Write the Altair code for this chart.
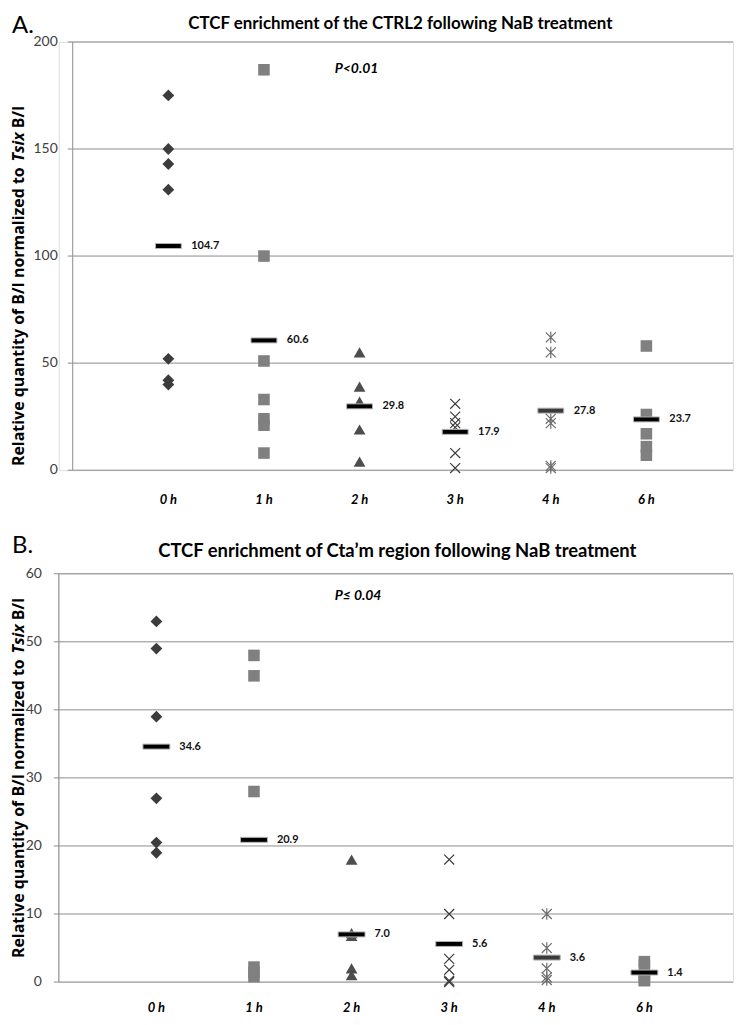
import altair as alt
import pandas as pd

# ---------------- data ----------------
times = ["0 h", "1 h", "2 h", "3 h", "4 h", "6 h"]
positions = [0, 1, 2, 3, 4, 5]

a_0h = [175, 150, 143, 131, 52, 42, 40]
a_1h = [187, 100, 51, 33, 24, 21, 8]
a_2h = [55, 39, 32, 19, 4]
a_3h = [31, 25, 22, 20, 8, 1]
a_4h = [62, 55, 24, 22, 2, 1]
a_6h = [58, 26, 17, 11, 7]
a_means = [104.7, 60.6, 29.8, 17.9, 27.8, 23.7]
a_ticks = [0, 50, 100, 150, 200]

b_0h = [53, 49, 39, 27, 20.5, 19]
b_1h = [48, 45, 28, 2.2, 1.4, 0.8]
b_2h = [18, 7.2, 6.8, 2, 1]
b_3h = [18, 10, 3.4, 1.8, 0.2, 0]
b_4h = [10, 5, 2, 0.7, 0.3]
b_6h = [3, 2.5, 1, 0.3, 0.2]
b_means = [34.6, 20.9, 7.0, 5.6, 3.6, 1.4]
b_ticks = [0, 10, 20, 30, 40, 50, 60]

title_a = "CTCF enrichment of the CTRL2 following NaB treatment"
title_b = "CTCF enrichment of Cta\u2019m region following NaB treatment"
p_a = "P<0.01"
p_b = "P\u2264 0.04"
ytitle_parts = ["Relative quantity of B/I normalized to", "Tsix", "B/I"]

# ---------------- styling ----------------
FONT = "Lato"
YT_FONT = "Open Sans"
GRID = "#8c8c8c"
X_PATH = "M-1,-1L1,1M-1,1L1,-1"
AST_PATH = "M-1,-1L1,1M-1,1L1,-1M0,-1.15L0,1.15"
shape_style = [
    dict(shape="diamond", filled=True, color="#3c3c3c", size=140),
    dict(shape="square", filled=True, color="#808080", size=135),
    dict(shape="triangle-up", filled=True, color="#4d4d4d", size=140),
    dict(shape=X_PATH, filled=False, color="#3c3c3c", size=100, strokeWidth=1.2),
    dict(shape=AST_PATH, filled=False, color="#6e6e6e", size=100, strokeWidth=1.2),
    dict(shape="square", filled=True, color="#808080", size=135),
]
bar_colors = ["#000000", "#000000", "#000000", "#000000", "#3a3a3a", "#000000"]

W = 677


def txt(s):
    return pd.DataFrame({"t": [s]})


def panel(series, means, ticks, ymax, H, xdom, axis_x, label_gap, letter,
          letter_y, title, title_x, title_y, title_size, pval, p_x, p_y,
          yt_x, yt_top, yt_size, bar_len, xlab_y):
    xs = alt.Scale(domain=xdom, nice=False, zero=False)
    ys = alt.Scale(domain=[0, ymax], nice=False, zero=False)
    tick_df = pd.DataFrame({"v": ticks, "lab": [str(t) for t in ticks]})
    layers = []
    # gridlines
    layers.append(alt.Chart(tick_df).mark_rule(color=GRID, strokeWidth=1).encode(
        y=alt.Y("v:Q", scale=ys, axis=None), x=alt.value(axis_x), x2=alt.value(W)))
    # y domain line
    layers.append(alt.Chart(txt("d")).mark_rule(color=GRID, strokeWidth=1).encode(
        x=alt.value(axis_x), y=alt.value(0), y2=alt.value(H)))
    # y ticks
    layers.append(alt.Chart(tick_df).mark_rule(color=GRID, strokeWidth=1).encode(
        y=alt.Y("v:Q", scale=ys, axis=None), x=alt.value(axis_x - 5), x2=alt.value(axis_x)))
    # y tick labels
    layers.append(alt.Chart(tick_df).mark_text(
        align="right", baseline="middle", font=FONT, fontSize=14, color="#404040").encode(
        y=alt.Y("v:Q", scale=ys, axis=None), x=alt.value(axis_x - label_gap), text="lab:N"))
    # points
    for i, vals in enumerate(series):
        st = dict(shape_style[i])
        df = pd.DataFrame({"pos": [positions[i]] * len(vals), "value": vals})
        layers.append(alt.Chart(df).mark_point(opacity=1, **st).encode(
            x=alt.X("pos:Q", scale=xs, axis=None),
            y=alt.Y("value:Q", scale=ys, axis=None)))
    # mean bars
    mdf = pd.DataFrame({"pos": positions, "value": means, "bc": bar_colors,
                        "lab": [f"{m:.1f}" for m in means]})
    layers.append(alt.Chart(mdf).mark_tick(
        orient="horizontal", size=bar_len, thickness=5, stroke="#b4b4b4",
        strokeWidth=1, opacity=1).encode(
        x=alt.X("pos:Q", scale=xs, axis=None),
        y=alt.Y("value:Q", scale=ys, axis=None),
        color=alt.Color("bc:N", scale=None)))
    layers.append(alt.Chart(mdf).mark_text(
        align="left", baseline="middle", dx=23, font=FONT, fontSize=11,
        fontWeight="bold", color="#111111").encode(
        x=alt.X("pos:Q", scale=xs, axis=None),
        y=alt.Y("value:Q", scale=ys, axis=None), text="lab:N"))
    # x labels
    xdf = pd.DataFrame({"pos": positions, "lab": times})
    layers.append(alt.Chart(xdf).mark_text(
        align="center", baseline="middle", font=FONT, fontSize=13,
        fontWeight="bold", fontStyle="italic", color="#000000").encode(
        x=alt.X("pos:Q", scale=xs, axis=None), y=alt.value(xlab_y), text="lab:N"))
    # panel letter
    layers.append(alt.Chart(txt(letter)).mark_text(
        align="left", baseline="top", font=FONT, fontSize=24, color="#000000").encode(
        x=alt.value(-47), y=alt.value(letter_y), text="t:N"))
    # title
    layers.append(alt.Chart(txt(title)).mark_text(
        align="center", baseline="middle", font=FONT, fontSize=title_size,
        fontWeight="bold", color="#000000").encode(
        x=alt.value(title_x), y=alt.value(title_y), text="t:N"))
    # p value
    layers.append(alt.Chart(txt(pval)).mark_text(
        align="left", baseline="middle", font=FONT, fontSize=14,
        fontWeight="bold", fontStyle="italic", color="#000000").encode(
        x=alt.value(p_x), y=alt.value(p_y), text="t:N"))
    # y title in three pieces (Tsix italic), anchored from the top
    k = yt_size / 15.0
    offs = [yt_top + 58 * k, yt_top + 25 * k, yt_top]
    stys = ["normal", "italic", "normal"]
    for part, off, sty in zip(ytitle_parts, offs, stys):
        layers.append(alt.Chart(txt(part)).mark_text(
            align="right", baseline="middle", angle=270, font=YT_FONT,
            fontSize=yt_size, fontWeight="bold", fontStyle=sty,
            color="#000000").encode(
            x=alt.value(yt_x), y=alt.value(off), text="t:N"))
    return alt.layer(*layers).properties(width=W, height=H)


pa = panel([a_0h, a_1h, a_2h, a_3h, a_4h, a_6h], a_means, a_ticks, 200, 430,
           [-1.146, 5.906], 14, 15, "A.", -28, title_a, 343, -18, 17,
           p_a, 277, 27, -40, 64, 16, 26, 460)
pb = panel([b_0h, b_1h, b_2h, b_3h, b_4h, b_6h], b_means, b_ticks, 60, 410,
           [-1.0, 5.908], 0, 17, "B.", -40, title_b, 340, -23, 18.5,
           p_b, 277, 22, -40, 24, 16, 27, 436)

chart = alt.vconcat(pa, pb, spacing=25).properties(
    padding={"left": 2, "top": 3, "right": 0, "bottom": 0}).configure_view(
    stroke=None).configure(background="white")

chart.save("out.html", embed_options={"renderer": "svg", "actions": False})
